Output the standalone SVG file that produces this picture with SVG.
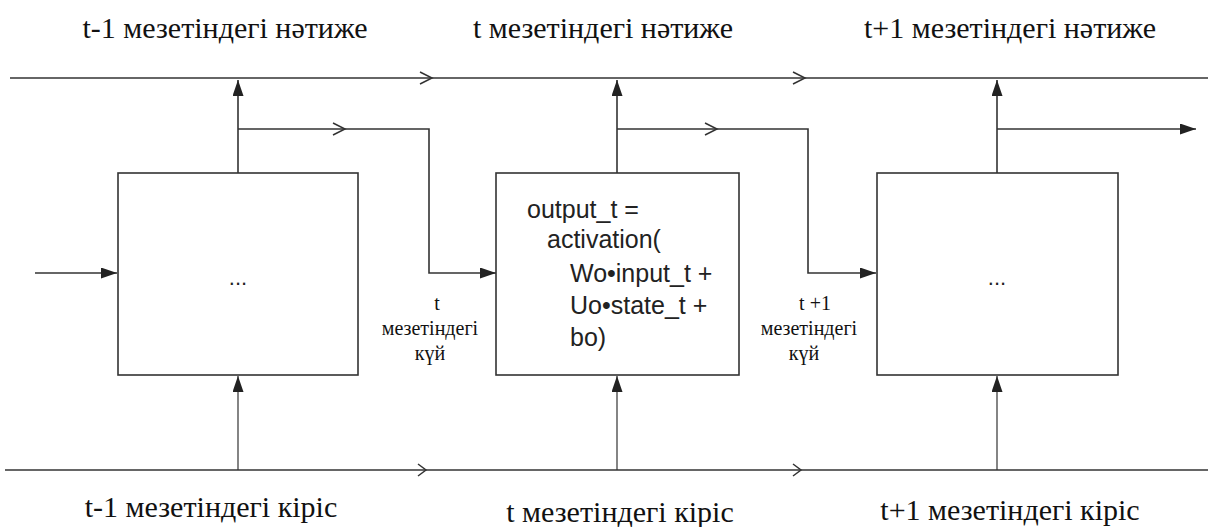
<svg xmlns="http://www.w3.org/2000/svg" width="1208" height="527" viewBox="0 0 1208 527">
<defs>
<style>
.ln{fill:none;stroke:#333;stroke-width:1.6}
.thin{fill:none;stroke:#333;stroke-width:1.2}
.chev{fill:none;stroke:#333;stroke-width:1.5}
.box{fill:#fff;stroke:#333;stroke-width:1.6}
.lbl{font-family:"Liberation Serif","Times New Roman","DejaVu Serif",serif;font-size:30px;fill:#111;text-anchor:middle}
.st{font-family:"Liberation Serif","Times New Roman","DejaVu Serif",serif;font-size:20px;fill:#111;text-anchor:middle}
.code{font-family:"Liberation Sans",Arial,sans-serif;font-size:25px;fill:#222}
.dots{font-family:"Liberation Sans",Arial,sans-serif;font-size:22px;fill:#222;text-anchor:middle}
</style>
<marker id="ah" viewBox="0 0 16 11" refX="16" refY="5.5" markerWidth="16" markerHeight="11" markerUnits="userSpaceOnUse" orient="auto">
<path d="M0,0 L16,5.5 L0,11 Z" fill="#222"/>
</marker>
</defs>
<rect width="1208" height="527" fill="#fff"/>
<g id="connectors">
<line class="ln" x1="10" y1="78" x2="1208" y2="78"/>
<path class="chev" d="M420,72 L432,78 L420,84"/>
<path class="chev" d="M793,72 L805,78 L793,84"/>
<line class="ln" x1="5" y1="470" x2="1208" y2="470"/>
<path class="chev" d="M418,464 L426,470 L418,476"/>
<path class="chev" d="M793,464 L801,470 L793,476"/>
<line class="ln" x1="238" y1="173" x2="238" y2="80" marker-end="url(#ah)"/>
<polyline class="ln" points="238,129 429,129 429,273 496,273" marker-end="url(#ah)"/>
<path class="chev" d="M333,123 L345,129 L333,135"/>
<line class="ln" x1="617" y1="173" x2="617" y2="80" marker-end="url(#ah)"/>
<polyline class="ln" points="617,129 808,129 808,273 876,273" marker-end="url(#ah)"/>
<path class="chev" d="M705,123 L717,129 L705,135"/>
<line class="ln" x1="997" y1="173" x2="997" y2="80" marker-end="url(#ah)"/>
<line class="ln" x1="997" y1="129" x2="1196" y2="129" marker-end="url(#ah)"/>
<line class="ln" x1="35" y1="273" x2="117" y2="273" marker-end="url(#ah)"/>
<line class="thin" x1="238" y1="470" x2="238" y2="376" marker-end="url(#ah)"/>
<line class="thin" x1="617" y1="470" x2="617" y2="376" marker-end="url(#ah)"/>
<line class="thin" x1="997" y1="470" x2="997" y2="376" marker-end="url(#ah)"/>
</g>
<g id="node-left">
<rect class="box" x="118" y="173" width="240" height="202"/>
<text class="dots" x="238" y="285">...</text>
</g>
<g id="node-middle">
<rect class="box" x="496" y="173" width="243" height="202"/>
<text class="code" x="527" y="218">output_t =</text>
<text class="code" x="547" y="248">activation(</text>
<text class="code" x="570" y="282">Wo•input_t +</text>
<text class="code" x="570" y="314">Uo•state_t +</text>
<text class="code" x="570" y="346">bo)</text>
</g>
<g id="node-right">
<rect class="box" x="877" y="173" width="241" height="202"/>
<text class="dots" x="997" y="285">...</text>
</g>
<g id="labels">
<text class="lbl" x="225" y="38">t-1 мезетіндегі нәтиже</text>
<text class="lbl" x="603" y="38">t мезетіндегі нәтиже</text>
<text class="lbl" x="1010" y="38">t+1 мезетіндегі нәтиже</text>
<text class="lbl" x="211" y="517">t-1 мезетіндегі кіріс</text>
<text class="lbl" x="620" y="522">t мезетіндегі кіріс</text>
<text class="lbl" x="1010" y="520">t+1 мезетіндегі кіріс</text>
<text class="st" x="437" y="310">t</text>
<text class="st" x="430" y="335">мезетіндегі</text>
<text class="st" x="430" y="360">күй</text>
<text class="st" x="815" y="310">t +1</text>
<text class="st" x="809" y="335">мезетіндегі</text>
<text class="st" x="804" y="360">күй</text>
</g>
</svg>
